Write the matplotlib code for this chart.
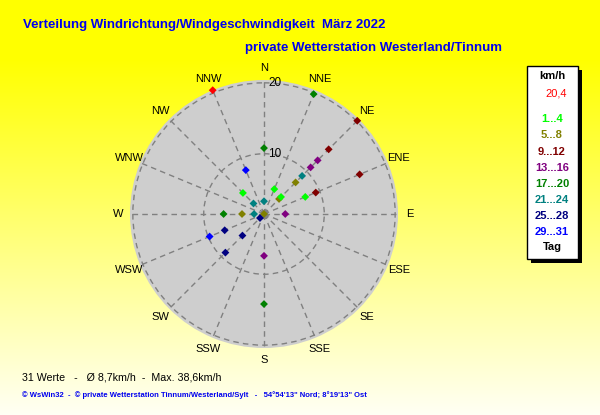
import numpy as np
import matplotlib
matplotlib.use('Agg')
import matplotlib.pyplot as plt
from matplotlib.patches import Rectangle

plt.rcParams['font.family'] = ['Liberation Sans', 'DejaVu Sans']

# Himmelsrichtungen (16 Sektoren)
directions = ['N', 'NNE', 'NE', 'ENE', 'E', 'ESE', 'SE', 'SSE',
              'S', 'SSW', 'SW', 'WSW', 'W', 'WNW', 'NW', 'NNW']

# Tagesgruppen der Legende und ihre Farben
day_groups = ['1...4', '5...8', '9...12', '13...16', '17...20', '21...24', '25...28', '29...31']
group_colors = ['#00ff00', '#808000', '#800000', '#800080', '#008000', '#008080', '#000080', '#0000ff']
max_color = '#ff0000'

# ein Punkt pro Tag: Richtung, Geschwindigkeit (km/h), Tagesgruppe (Index)
wind_dir = ['N', 'NE', 'NE', 'NE', 'NE', 'NE', 'NNW', 'NW', 'NNE', 'NE', 'NE',
            'ENE', 'ENE', 'NW', 'N', 'W', 'N', 'SW', 'E', 'W', 'W', 'WSW',
            'SW', 'WSW', 'NNW', 'NNE', 'NE', 'ENE', 'S', 'S', 'SW']
wind_speed = [10.8, 14.4, 12.2, 10.8, 9.1, 7.8, 8.2, 5.7, 5.3, 4.5, 4.9,
              9.4, 7.8, 3.6, 3.3, 2.9, 1.5, 2.3, 4.5, 7.2, 4.6, 7.5,
              5.8, 9.8, 20.4, 19.8, 20.1, 16.1, 7.4, 14.2, 9.2]
day_group = [4, 2, 3, 3, 5, 1, 7, 0, 0, 1, 0,
             2, 0, 5, 5, 5, 1, 6, 3, 4, 1, 6,
             6, 7, 7, 4, 2, 2, 3, 4, 6]

r_grid = [10, 20]
r_min, r_max = 1.5, 20.4

W, H = 600, 415
fig = plt.figure(figsize=(W / 100, H / 100), dpi=100)

# Hintergrund: gelb -> fast weiss
bg = fig.add_axes([0, 0, 1, 1])
bg.axis('off')
rows = np.arange(H)
b = np.clip((rows - 60) / 355.0, 0, 1) * 0.96
img = np.ones((H, 2, 3))
img[:, :, 2] = b[:, None]
bg.imshow(img, aspect='auto', extent=[0, 1, 0, 1])

# Polardiagramm
cx, cy, rad = 264, 214, 134
ax = fig.add_axes([(cx - rad) / W, (H - cy - rad) / H, 2 * rad / W, 2 * rad / H],
                  projection='polar')
ax.set_facecolor('#cecece')
ax.set_theta_zero_location('N')
ax.set_theta_direction(-1)
ax.set_rlim(r_min, r_max)
theta_ticks = np.deg2rad(np.arange(len(directions)) * 22.5)
ax.set_xticks(theta_ticks)
ax.set_xticklabels([])
ax.set_yticks(r_grid)
ax.set_yticklabels([])
ax.tick_params(length=0)
ax.grid(True, color='#808080', linestyle=(0, (4, 3)), linewidth=1)
ax.spines['polar'].set_visible(False)

for t, lab in zip(theta_ticks, directions):
    ax.text(t, 22.1, lab, ha='center', va='center', fontsize=8, color='black')
for r in r_grid:
    ax.annotate(str(r), xy=(0, r), xytext=(3, 0), textcoords='offset points',
                ha='left', va='center', fontsize=8.5, color='black')

ax.plot(0, r_min, marker='s', ms=4, color='#808080', zorder=3)

theta = np.deg2rad([directions.index(d) * 22.5 for d in wind_dir])
vmax = max(wind_speed)
colors = [max_color if v == vmax else group_colors[g] for v, g in zip(wind_speed, day_group)]
ax.scatter(theta, wind_speed, c=colors, marker='D', s=16, linewidths=0, zorder=4, clip_on=False)

# Titel
fig.text(23 / W, 1 - 25 / H, 'Verteilung Windrichtung/Windgeschwindigkeit  März 2022',
         fontsize=9.5, fontweight='bold', color='#0000ee', va='center')
fig.text(245 / W, 1 - 48 / H, 'private Wetterstation Westerland/Tinnum',
         fontsize=9.5, fontweight='bold', color='#0000ee', va='center')

# Legende
lx0, ly0, lx1, ly1 = 527, 66, 578, 259
fig.patches.append(Rectangle(((lx0 + 4) / W, 1 - (ly1 + 4) / H), (lx1 - lx0) / W, (ly1 - ly0) / H,
                             transform=fig.transFigure, facecolor='black', edgecolor='none'))
fig.patches.append(Rectangle((lx0 / W, 1 - ly1 / H), (lx1 - lx0) / W, (ly1 - ly0) / H,
                             transform=fig.transFigure, facecolor='white', edgecolor='black', linewidth=1))
lxc = 552 / W
fig.text(lxc, 1 - 76 / H, 'km/h', fontsize=8, fontweight='bold', ha='center', va='center')
fig.text(556 / W, 1 - 93 / H, f'{vmax:.1f}'.replace('.', ','), fontsize=8, color=max_color,
         ha='center', va='center')
for i, (lab, col) in enumerate(zip(day_groups, group_colors)):
    fig.text(lxc, 1 - (119.5 + i * 16.0) / H, lab, fontsize=8, fontweight='bold', color=col,
             ha='center', va='center')
fig.text(lxc, 1 - 247 / H, 'Tag', fontsize=8, fontweight='bold', ha='center', va='center')

# Fusszeilen
fig.text(22 / W, 1 - 377 / H, '31 Werte   -   Ø 8,7km/h  -  Max. 38,6km/h',
         fontsize=7.7, color='black', va='center')
fig.text(22 / W, 1 - 395 / H,
         '© WsWin32  -  © private Wetterstation Tinnum/Westerland/Sylt   -   54°54\'13" Nord; 8°19\'13" Ost',
         fontsize=5.5, fontweight='bold', color='#0000ee', va='center')

fig.savefig('out.png', dpi=100)
